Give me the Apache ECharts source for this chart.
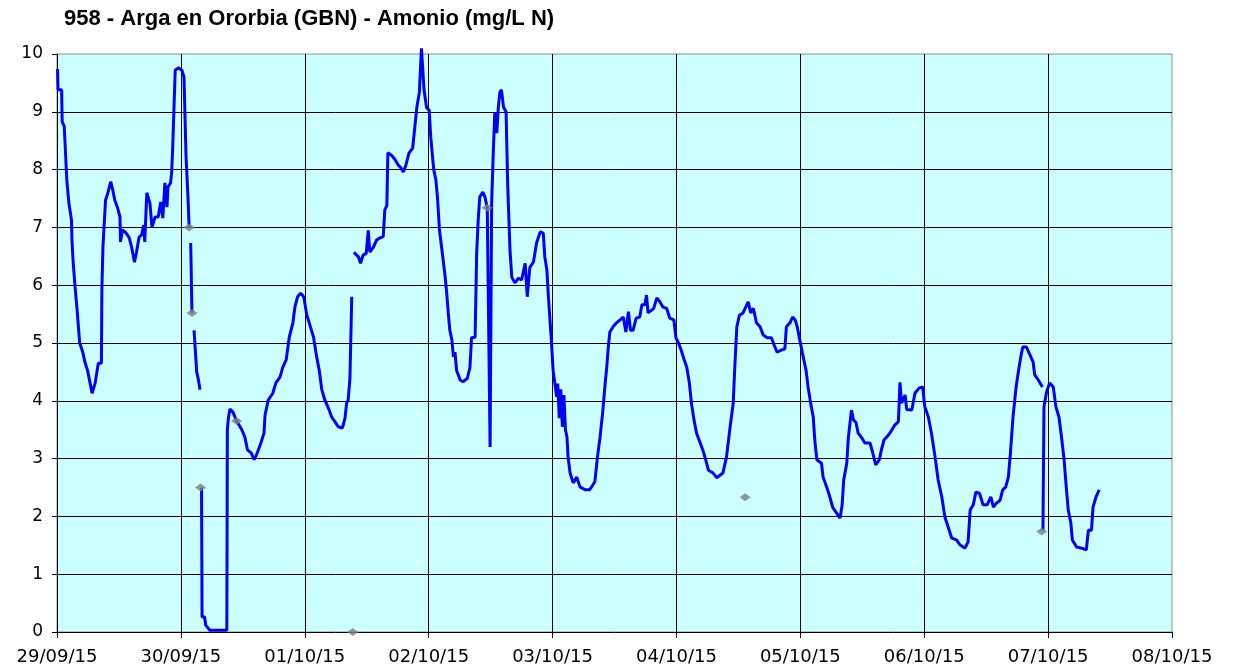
<!DOCTYPE html>
<html>
<head>
<meta charset="utf-8">
<script src="https://cdn.jsdelivr.net/npm/echarts@6/dist/echarts.min.js"></script>
<style>
  html, body { margin: 0; padding: 0; background: #ffffff; }
  #chart { width: 1233px; height: 672px; }
</style>
</head>
<body>
<div id="chart"></div>
<script>
// Day labels for the x axis (one tick every 24 h, starting 29/09/15 00:00)
const dayLabels = ['29/09/15', '30/09/15', '01/10/15', '02/10/15', '03/10/15',
                   '04/10/15', '05/10/15', '06/10/15', '07/10/15', '08/10/15'];

// Continuous sensor record: hours since 29/09/15 00:00 and ammonium (mg/L N).
// null marks a break in the record.
const hours = [
  0.1, 0.2, 0.9, 1.0, 1.4, 1.7, 1.9, 2.3, 2.8, 2.9, 3.1, 3.5, 3.9, 4.2, 4.4, 5.0, 5.4, 5.9, 6.4, 6.8,
  7.4, 8.0, 8.6, 8.7, 8.9, 9.4, 9.9, 10.4, 10.8, 11.2, 11.7, 12.2, 12.3, 12.7, 13.4, 14.0, 14.5, 15.0, 15.4, 15.9,
  16.4, 16.8, 17.0, 17.4, 18.0, 18.4, 19.0, 19.6, 20.1, 20.5, 20.9, 21.3, 21.5, 22.0, 22.2, 22.4, 22.9, 23.5, 24.2, 24.6,
  25.0, 25.4, 25.6, 25.75,
  25.9, 26.15, 26.35,
  26.55, 27.06, 27.4, 27.7, 27.9,
  28.0, 28.1, 28.6, 28.8, 29.6, 32.9, 33.0, 33.2, 33.5, 34.1, 34.8, 35.8, 36.4, 36.9, 37.6, 38.2, 38.8, 39.5, 40.1, 40.3,
  40.9, 41.8, 42.4, 43.2, 43.7, 44.4, 45.0, 45.7, 46.1, 46.6, 47.2, 47.8, 48.4, 49.0, 49.7, 50.3, 50.8, 51.3, 51.9, 52.6,
  53.2, 53.9, 54.5, 55.3, 55.8, 56.1, 56.4, 56.75, 57.1, 57.3,
  57.5, 58.4, 58.8, 59.3, 59.9, 60.3, 60.6, 61.3, 61.9, 62.6, 63.2, 63.5, 63.9, 64.1, 64.8, 65.5, 66.1, 66.6, 67.1, 67.6,
  68.2, 68.9, 69.3, 69.7, 70.2, 70.6, 71.1, 71.6, 72.1, 72.4, 72.8, 73.0, 73.4, 73.7, 74.1, 74.5, 74.8, 75.2, 75.5, 75.8,
  76.1, 76.5, 76.8, 77.1, 77.4, 78.1, 78.7, 79.5, 80.0, 80.3, 81.0, 81.3, 81.6, 81.9, 82.5, 82.9, 83.35, 83.9, 84.2, 84.5,
  84.8, 85.2, 85.5, 85.8, 86.1, 86.5, 87.0, 87.3, 87.6, 87.75, 88.1, 88.7, 89.4, 90.0, 90.7, 91.1, 91.6, 92.3, 92.9, 93.6,
  94.2, 94.5, 94.9, 95.2, 95.5, 95.8, 96.1, 96.8, 97.0, 97.3, 97.6, 97.9, 98.2, 98.5, 98.8, 99.0, 99.4, 100.0, 100.7, 101.3,
  102.3, 103.2, 104.2, 104.7, 105.2, 105.7, 106.2, 106.5, 106.8, 107.1, 107.8, 108.4, 109.1, 109.7, 110.2, 110.7, 111.1, 111.6, 112.2, 112.9,
  113.3, 113.9, 114.2, 114.5, 115.2, 115.6, 116.2, 116.8, 117.4, 118.1, 118.7, 119.5, 119.9, 120.4, 120.9, 121.5, 122.0, 122.5, 122.9, 123.4,
  123.9, 124.4, 125.1, 125.7, 126.2, 127.1, 127.8, 129.0, 129.7, 130.4, 131.0, 131.3, 131.7, 132.2, 132.9, 133.9, 134.4, 134.9, 135.5, 136.2,
  136.8, 137.6, 138.4, 138.9, 139.5, 140.4, 141.0, 141.3, 142.0, 142.5, 143.0, 143.4, 143.9, 144.4, 145.1, 145.5, 146.0, 146.5, 146.8, 147.2,
  148.1, 148.4, 149.1, 149.7, 150.3, 151.0, 151.7, 152.1, 152.4, 153.0, 153.3, 153.9, 154.3, 154.8, 155.2, 155.9, 156.5, 157.5, 158.0, 158.6,
  159.3, 159.7, 160.2, 161.0, 161.5, 162.3, 163.0, 163.3, 163.6, 164.3, 164.6, 165.6, 166.2, 167.0, 167.7, 168.1, 168.8, 169.4, 170.1, 170.7,
  171.4, 172.0, 172.7, 173.3, 174.3, 174.9, 175.9, 176.5, 176.9, 177.5, 178.0, 178.7, 179.4, 180.2, 180.9, 181.4, 182.0, 182.7, 183.2, 183.8,
  184.3, 184.7, 185.2, 185.8, 186.2, 186.7, 187.1, 187.8, 188.5, 189.1, 189.4, 190.1, 190.9, 190.95,
  191.0, 191.2, 191.7, 192.3, 193.0, 193.5, 194.1, 194.6, 195.1, 195.4, 195.9, 196.4, 196.7, 197.5, 198.5, 199.4, 199.8, 200.4, 200.7, 201.3,
  201.9
];
const ammonia = [
  9.74, 9.38, 9.38, 8.83, 8.75, 8.20, 7.82, 7.42, 7.13, 6.78, 6.44, 5.97, 5.57, 5.22, 5.00, 4.84, 4.67, 4.53, 4.31, 4.13,
  4.31, 4.65, 4.65, 5.95, 6.66, 7.47, 7.61, 7.79, 7.65, 7.47, 7.35, 7.18, 6.75, 6.96, 6.90, 6.82, 6.64, 6.40, 6.57, 6.83,
  6.87, 7.04, 6.75, 7.60, 7.42, 7.00, 7.18, 7.18, 7.44, 7.16, 7.77, 7.35, 7.70, 7.77, 7.94, 8.34, 9.72, 9.76, 9.72, 9.60,
  8.22, 7.47, 7.00, null,
  6.73, 5.52, null,
  5.22, 4.50, 4.36, 4.19, null,
  2.50, 0.26, 0.26, 0.12, 0.03, 0.03, 3.50, 3.70, 3.86, 3.80, 3.65, 3.50, 3.37, 3.15, 3.10, 2.98, 3.10, 3.27, 3.44, 3.75,
  4.01, 4.13, 4.31, 4.41, 4.57, 4.71, 5.10, 5.35, 5.63, 5.80, 5.86, 5.80, 5.48, 5.31, 5.10, 4.76, 4.53, 4.19, 4.01, 3.87,
  3.72, 3.63, 3.55, 3.53, 3.70, 3.96, 4.01, 4.39, 5.80, null,
  6.57, 6.49, 6.38, 6.52, 6.55, 6.95, 6.57, 6.66, 6.78, 6.82, 6.84, 7.30, 7.38, 8.29, 8.25, 8.17, 8.08, 8.03, 7.96, 8.08,
  8.29, 8.37, 8.72, 9.07, 9.34, 10.10, 9.38, 9.07, 9.03, 8.57, 8.17, 7.99, 7.82, 7.53, 6.95, 6.66, 6.44, 6.14, 5.86, 5.52,
  5.22, 5.05, 4.76, 4.84, 4.53, 4.36, 4.33, 4.39, 4.58, 5.09, 5.10, 6.56, 7.13, 7.53, 7.61, 7.53, 7.34, 3.20, 7.42, 8.25,
  8.98, 8.63, 9.08, 9.34, 9.38, 9.08, 9.00, 7.77, 7.00, 6.61, 6.14, 6.04, 6.12, 6.09, 6.38, 5.80, 6.31, 6.40, 6.73, 6.92,
  6.90, 6.49, 6.26, 5.80, 5.40, 5.00, 4.53, 4.07, 4.30, 3.70, 4.20, 3.55, 4.10, 3.50, 3.37, 3.03, 2.75, 2.58, 2.68, 2.51,
  2.46, 2.46, 2.60, 3.03, 3.37, 3.79, 4.31, 4.58, 4.93, 5.19, 5.29, 5.35, 5.40, 5.45, 5.19, 5.54, 5.22, 5.22, 5.43, 5.45,
  5.66, 5.66, 5.83, 5.52, 5.57, 5.60, 5.78, 5.71, 5.62, 5.60, 5.43, 5.40, 5.09, 5.00, 4.88, 4.71, 4.58, 4.31, 3.96, 3.67,
  3.44, 3.32, 3.15, 2.97, 2.80, 2.75, 2.67, 2.75, 3.03, 3.55, 3.96, 4.58, 5.28, 5.48, 5.52, 5.71, 5.52, 5.60, 5.35, 5.28,
  5.14, 5.09, 5.09, 4.97, 4.84, 4.88, 4.90, 5.28, 5.35, 5.45, 5.40, 5.28, 5.05, 4.83, 4.53, 4.24, 3.96, 3.72, 3.32, 2.98,
  2.92, 2.68, 2.51, 2.34, 2.15, 2.06, 1.97, 2.20, 2.63, 2.92, 3.36, 3.84, 3.67, 3.62, 3.44, 3.36, 3.27, 3.27, 3.11, 2.89,
  2.98, 3.15, 3.32, 3.40, 3.46, 3.58, 3.64, 4.32, 3.96, 4.10, 3.85, 3.84, 4.13, 4.22, 4.24, 3.90, 3.72, 3.44, 3.03, 2.63,
  2.34, 1.99, 1.80, 1.63, 1.59, 1.51, 1.45, 1.56, 2.11, 2.20, 2.42, 2.40, 2.20, 2.20, 2.34, 2.16, 2.23, 2.28, 2.46, 2.51,
  2.68, 3.10, 3.72, 4.24, 4.48, 4.76, 4.93, 4.93, 4.79, 4.67, 4.45, 4.36, 4.24, null,
  1.75, 3.90, 4.15, 4.31, 4.24, 3.90, 3.72, 3.37, 2.98, 2.63, 2.11, 1.89, 1.59, 1.47, 1.45, 1.42, 1.76, 1.76, 2.16, 2.34,
  2.46
];

// Discrete samples drawn as grey diamonds
const sampleHours  = [25.6, 26.15, 27.8, 34.8, 57.3, 83.35, 133.3, 190.75];
const sampleValues = [7.00, 5.52, 2.50, 3.65, 0.00, 7.34, 2.33, 1.74];

const lineData = hours.map((h, i) => [h, ammonia[i] === null ? '-' : ammonia[i]]);
const sampleData = sampleHours.map((h, i) => [h, sampleValues[i]]);

const labelFont = 'DejaVu Sans, Verdana, sans-serif';

const chart = echarts.init(document.getElementById('chart'), null, { renderer: 'canvas' });
chart.setOption({
  animation: false,
  backgroundColor: '#ffffff',
  title: {
    text: '958 - Arga en Ororbia (GBN) - Amonio (mg/L N)',
    left: 59,
    top: 3,
    textStyle: {
      fontFamily: 'Liberation Sans, Arial, sans-serif',
      fontWeight: 'bold',
      fontSize: 22,
      color: '#000000'
    }
  },
  grid: {
    left: 57,
    right: 61,
    top: 54,
    bottom: 40,
    show: true,
    backgroundColor: '#CCFFFF',
    borderColor: '#8c8c8c',
    borderWidth: 1
  },
  xAxis: {
    type: 'value',
    min: 0,
    max: 216,
    interval: 24,
    axisLine: { show: true, onZero: false, lineStyle: { color: '#000000', width: 1 } },
    axisTick: { show: true, length: 6, lineStyle: { color: '#000000' } },
    splitLine: { show: true, showMinLine: false, showMaxLine: false, lineStyle: { color: '#000000', width: 1 } },
    axisLabel: {
      margin: 16,
      fontFamily: labelFont,
      fontSize: 18,
      color: '#000000',
      formatter: v => dayLabels[Math.round(v / 24)] || ''
    }
  },
  yAxis: {
    type: 'value',
    min: 0,
    max: 10,
    interval: 1,
    axisLine: { show: true, onZero: false, lineStyle: { color: '#000000', width: 1 } },
    axisTick: { show: true, length: 5, lineStyle: { color: '#000000' } },
    splitLine: { show: true, showMinLine: false, showMaxLine: false, lineStyle: { color: '#000000', width: 1 } },
    axisLabel: {
      margin: 14,
      fontFamily: labelFont,
      fontSize: 17,
      color: '#000000'
    }
  },
  series: [
    {
      name: 'Amonio',
      type: 'line',
      data: lineData,
      showSymbol: false,
      connectNulls: false,
      clip: false,
      lineStyle: { color: '#0000FF', width: 3 },
      itemStyle: { color: '#0000FF' },
      z: 3
    },
    {
      name: 'Muestras',
      type: 'scatter',
      data: sampleData,
      symbol: 'diamond',
      symbolSize: [11, 8],
      itemStyle: { color: '#808080' },
      z: 4
    }
  ]
});
</script>
</body>
</html>
